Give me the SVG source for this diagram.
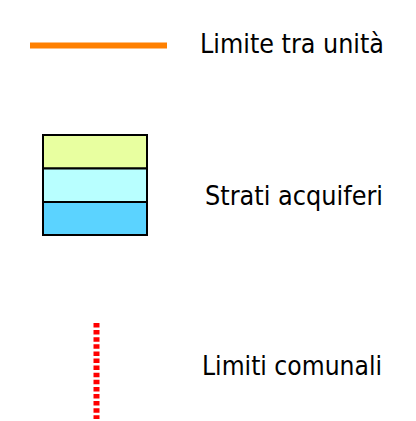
<svg xmlns="http://www.w3.org/2000/svg" width="416" height="421" viewBox="0 0 416 421">
<style>
.lbl{font-family:"DejaVu Sans Condensed","DejaVu Sans",sans-serif;font-size:27px;fill:#000}
.layer{stroke:#000;stroke-width:2}
</style>
<rect width="416" height="421" fill="#fff"/>
<g id="limite-unita">
<line x1="30" y1="45.5" x2="167" y2="45.5" stroke="#FF8000" stroke-width="6"/>
<text class="lbl" x="200" y="53" textLength="184" lengthAdjust="spacingAndGlyphs">Limite tra unità</text>
</g>
<g id="strati-acquiferi">
<rect class="layer" x="43" y="135" width="104" height="33.5" fill="#E8FFA0"/>
<rect class="layer" x="43" y="168.5" width="104" height="33.5" fill="#B8FFFF"/>
<rect class="layer" x="43" y="202" width="104" height="33" fill="#5BD3FF"/>
<text class="lbl" x="205" y="205" textLength="178" lengthAdjust="spacingAndGlyphs">Strati acquiferi</text>
</g>
<g id="limiti-comunali">
<line x1="96.5" y1="323" x2="96.5" y2="419" stroke="#FF0000" stroke-width="6" stroke-dasharray="4.5 2.6"/>
<text class="lbl" x="202" y="375" textLength="180" lengthAdjust="spacingAndGlyphs">Limiti comunali</text>
</g>
</svg>
